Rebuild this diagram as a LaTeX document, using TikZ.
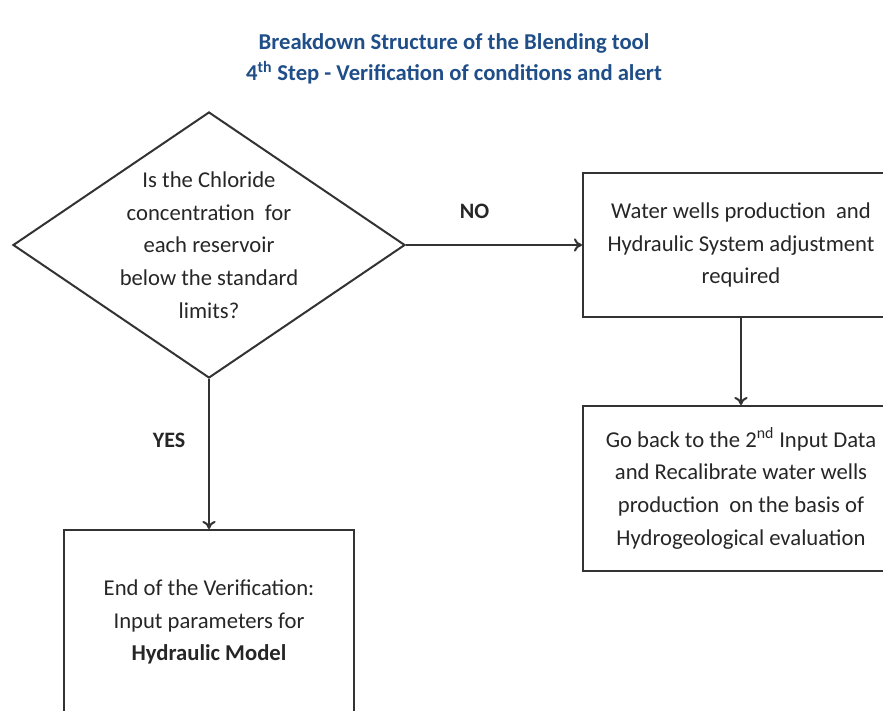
\documentclass[tikz,border=0pt]{standalone}
\usepackage{fontspec}
\setmainfont{Carlito}
\usetikzlibrary{shapes.geometric,arrows.meta}
\definecolor{titleblue}{HTML}{1F4E89}
\tikzstyle{txt}=[font={\fontsize{17}{24.5}\selectfont},text=black!85,align=center]
\tikzstyle{cond}=[diamond,draw=black!80,line width=1.5pt,minimum width=294pt,minimum height=199.5pt,inner sep=0pt]
\tikzstyle{box}=[rectangle,draw=black!80,line width=1.5pt,txt]
\tikzstyle{lbl}=[txt,font={\fontsize{16.5}{24.5}\selectfont\bfseries}]
\tikzstyle{arr}=[-{To[length=6pt,width=10pt]},line width=1.5pt,black!80]

\begin{document}
\begin{tikzpicture}[x=0.75pt,y=-0.75pt]
\useasboundingbox (0,0) rectangle (883,711);
% title
\node[txt,text=titleblue,font={\fontsize{17}{23.2}\selectfont\bfseries}] (title) at (454,59)
  {Breakdown Structure of the Blending tool\\4\textsuperscript{th} Step - Verification of conditions and alert};
% flow
\node[cond,label={[txt]center:{Is the Chloride\\concentration~ for\\each reservoir\\below the standard\\limits?}}] (cond) at (209,245) {};
\node[box,minimum width=237pt,minimum height=108pt] (adjust) at (741,245)
  {Water wells production~ and\\Hydraulic System adjustment\\required};
\node[box,minimum width=237pt,minimum height=123.75pt] (recal) at (741,488.5)
  {Go back to the 2\textsuperscript{nd} Input Data\\and Recalibrate water wells\\production~ on the basis of\\Hydrogeological evaluation};
\node[box,minimum width=217.5pt,minimum height=138pt] (endver) at (209,622)
  {End of the Verification:\\Input parameters for\\\textbf{Hydraulic Model}};
\draw[arr] (cond.east) -- (adjust.west) node[lbl,pos=0.39,yshift=25.5pt] (no) {NO};
\draw[arr] (adjust.south) -- (recal.north);
\draw[arr] (cond.south) -- (endver.north) node[lbl,pos=0.41,xshift=-30pt] (yes) {YES};
\end{tikzpicture}
\end{document}
